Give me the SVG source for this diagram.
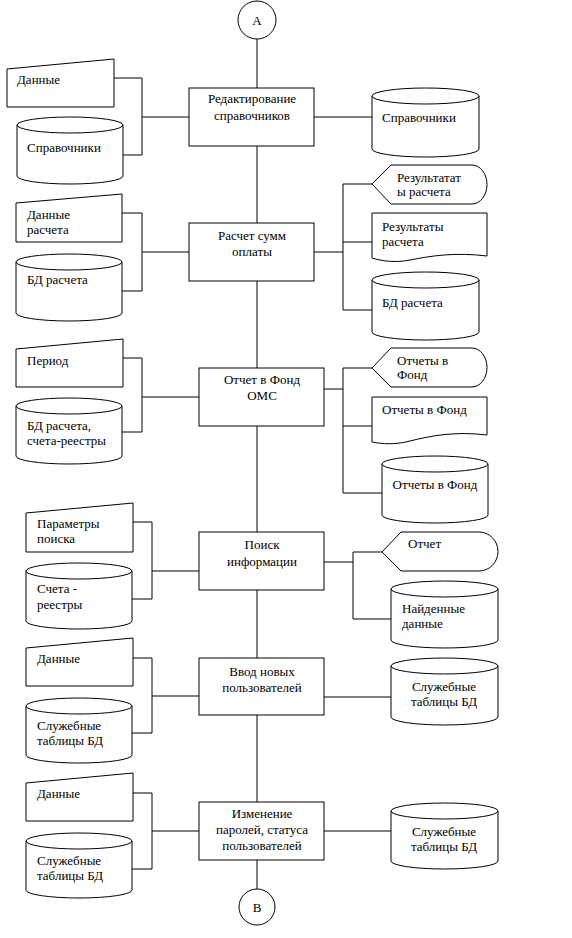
<svg xmlns="http://www.w3.org/2000/svg" width="572" height="938" viewBox="0 0 572 938" font-family="'Liberation Serif', 'Times New Roman', Times, serif" font-size="13">
<style>
.s{fill:#fff;stroke:#000;stroke-width:1}
.c{fill:none;stroke:#000;stroke-width:1}
text{font-family:'Liberation Serif','Times New Roman',Times,serif;font-size:13px;fill:#000}
.m{text-anchor:middle}
</style>
<rect width="572" height="938" fill="#fff"/>
<g id="connectors" class="c">
<path d="M257,39 V889"/>
<path d="M114,78 H142 V155 H123 M142,117 H189"/>
<path d="M314,117 H372"/>
<path d="M122,213 H142 V291 H122 M142,252 H189"/>
<path d="M314,252 H343 M372,184 H343 V310 H372 M343,242 H372"/>
<path d="M123,358 H142 V432 H122 M142,397 H199"/>
<path d="M324,389 H343 M372,368 H343 V493 H382 M343,426 H372"/>
<path d="M133,522 H152 V599 H132 M152,571 H199"/>
<path d="M324,562 H353 M382,552 H353 V619 H391"/>
<path d="M133,658 H152 V733 H132 M152,696 H199"/>
<path d="M324,697 H391"/>
<path d="M133,793 H152 V869 H132 M152,831 H199"/>
<path d="M324,831 H391"/>
</g>
<g id="A"><circle class="s" cx="257" cy="20" r="19"/><text class="m" x="257" y="25">А</text></g>
<g id="B"><circle class="s" cx="257" cy="907" r="18"/><text class="m" x="257" y="912">В</text></g>

<g id="p1"><rect class="s" x="189" y="88" width="125" height="58"/><text class="m" x="252" y="103">Редактирование</text><text class="m" x="252" y="120">справочников</text></g>
<g id="p2"><rect class="s" x="189" y="223" width="125" height="58"/><text class="m" x="252" y="240">Расчет сумм</text><text class="m" x="252" y="256">оплаты</text></g>
<g id="p3"><rect class="s" x="199" y="368" width="125" height="58"/><text class="m" x="262" y="384">Отчет в Фонд</text><text class="m" x="262" y="400">ОМС</text></g>
<g id="p4"><rect class="s" x="199" y="532" width="125" height="58"/><text class="m" x="262" y="549">Поиск</text><text class="m" x="262" y="566">информации</text></g>
<g id="p5"><rect class="s" x="199" y="658" width="125" height="57"/><text class="m" x="262" y="676">Ввод новых</text><text class="m" x="262" y="692">пользователей</text></g>
<g id="p6"><rect class="s" x="199" y="802" width="125" height="58"/><text class="m" x="262" y="818">Изменение</text><text class="m" x="262" y="834">паролей, статуса</text><text class="m" x="262" y="850">пользователей</text></g>

<g id="in1"><polygon class="s" points="7,69 114,59 114,107 7,107"/><text x="17" y="84">Данные</text></g>
<g id="db1"><path class="s" d="M17,125 A53,8 0 0 1 123,125 V176 A53,8 0 0 1 17,176 Z"/><path class="c" d="M17,125 A53,8 0 0 0 123,125"/><text x="27" y="152">Справочники</text></g>
<g id="db1r"><path class="s" d="M372,96 A53.5,8 0 0 1 479,96 V149 A53.5,8 0 0 1 372,149 Z"/><path class="c" d="M372,96 A53.5,8 0 0 0 479,96"/><text x="382" y="122">Справочники</text></g>

<g id="in2"><polygon class="s" points="16,203 122,194 122,242 16,242"/><text x="27" y="219">Данные</text><text x="27" y="234">расчета</text></g>
<g id="db2"><path class="s" d="M16,262 A53,8 0 0 1 122,262 V313 A53,8 0 0 1 16,313 Z"/><path class="c" d="M16,262 A53,8 0 0 0 122,262"/><text x="27" y="284">БД расчета</text></g>
<g id="disp2"><path class="s" d="M372,184 L391,165 H472 A15,19.5 0 0 1 472,204 H391 Z"/><text x="397" y="182">Результатат</text><text x="397" y="196">ы расчета</text></g>
<g id="doc2"><path class="s" d="M372,213 H487 V256 C455,252 430,256 410,260 C395,263 382,261 372,258 Z"/><text x="382" y="231">Результаты</text><text x="382" y="246">расчета</text></g>
<g id="db2r"><path class="s" d="M372,280 A53.5,8 0 0 1 479,280 V332 A53.5,8 0 0 1 372,332 Z"/><path class="c" d="M372,280 A53.5,8 0 0 0 479,280"/><text x="382" y="307">БД расчета</text></g>

<g id="in3"><polygon class="s" points="16,349 123,339 123,387 16,387"/><text x="27" y="365">Период</text></g>
<g id="db3"><path class="s" d="M16,406 A53,8 0 0 1 122,406 V456 A53,8 0 0 1 16,456 Z"/><path class="c" d="M16,406 A53,8 0 0 0 122,406"/><text x="27" y="430">БД расчета,</text><text x="27" y="445">счета-реестры</text></g>
<g id="disp3"><path class="s" d="M372,368 L391,348 H472 A15,19.5 0 0 1 472,387 H391 Z"/><text x="397" y="365">Отчеты в</text><text x="397" y="379">Фонд</text></g>
<g id="doc3"><path class="s" d="M372,397 H487 V435 C455,431 430,436 410,441 C395,445 382,444 372,442 Z"/><text x="382" y="414">Отчеты в Фонд</text></g>
<g id="db3r"><path class="s" d="M382,464 A53,8 0 0 1 488,464 V515 A53,8 0 0 1 382,515 Z"/><path class="c" d="M382,464 A53,8 0 0 0 488,464"/><text class="m" x="435" y="489">Отчеты в Фонд</text></g>

<g id="in4"><polygon class="s" points="26,513 133,503 133,552 26,552"/><text x="37" y="528">Параметры</text><text x="37" y="543">поиска</text></g>
<g id="db4"><path class="s" d="M26,571 A53,8 0 0 1 132,571 V621 A53,8 0 0 1 26,621 Z"/><path class="c" d="M26,571 A53,8 0 0 0 132,571"/><text x="37" y="593">Счета -</text><text x="37" y="609">реестры</text></g>
<g id="disp4"><path class="s" d="M382,552 L401,532 H479 A19,19.5 0 0 1 479,571 H401 Z"/><text x="408" y="548">Отчет</text></g>
<g id="db4r"><path class="s" d="M391,589 A53.5,8 0 0 1 498,589 V640 A53.5,8 0 0 1 391,640 Z"/><path class="c" d="M391,589 A53.5,8 0 0 0 498,589"/><text x="402" y="613">Найденные</text><text x="402" y="628">данные</text></g>

<g id="in5"><polygon class="s" points="26,648 133,638 133,686 26,686"/><text x="37" y="663">Данные</text></g>
<g id="db5"><path class="s" d="M26,706 A53,8 0 0 1 132,706 V755 A53,8 0 0 1 26,755 Z"/><path class="c" d="M26,706 A53,8 0 0 0 132,706"/><text x="37" y="730">Служебные</text><text x="37" y="745">таблицы БД</text></g>
<g id="db5r"><path class="s" d="M391,666 A53.5,8 0 0 1 498,666 V717 A53.5,8 0 0 1 391,717 Z"/><path class="c" d="M391,666 A53.5,8 0 0 0 498,666"/><text class="m" x="444" y="691">Служебные</text><text class="m" x="444" y="706">таблицы БД</text></g>

<g id="in6"><polygon class="s" points="26,783 133,773 133,821 26,821"/><text x="37" y="798">Данные</text></g>
<g id="db6"><path class="s" d="M26,841 A53,8 0 0 1 132,841 V890 A53,8 0 0 1 26,890 Z"/><path class="c" d="M26,841 A53,8 0 0 0 132,841"/><text x="37" y="865">Служебные</text><text x="37" y="880">таблицы БД</text></g>
<g id="db6r"><path class="s" d="M391,811 A53.5,8 0 0 1 498,811 V861 A53.5,8 0 0 1 391,861 Z"/><path class="c" d="M391,811 A53.5,8 0 0 0 498,811"/><text class="m" x="444" y="836">Служебные</text><text class="m" x="444" y="851">таблицы БД</text></g>
</svg>
